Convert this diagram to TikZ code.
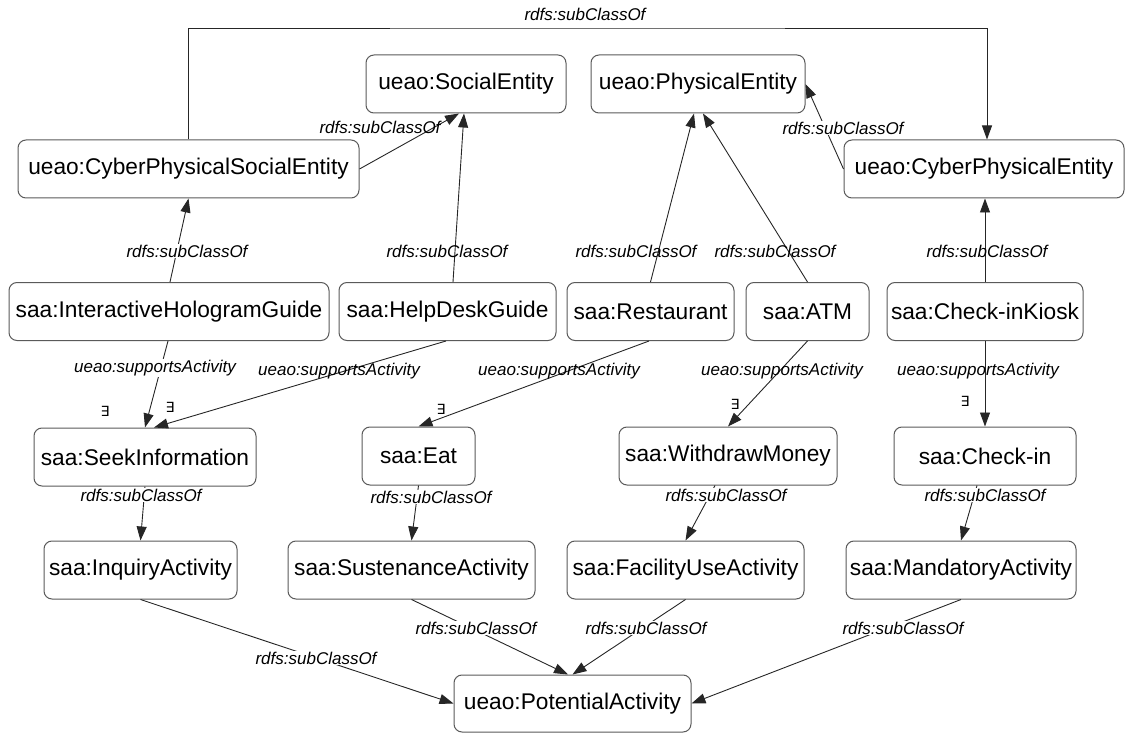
\documentclass[tikz,border=0pt]{standalone}
\usepackage{fontspec}
\setmainfont{Liberation Sans}
\newfontfamily\symfont{DejaVu Sans}
\usetikzlibrary{arrows.meta}

\definecolor{boxline}{HTML}{5A5A5A}
\definecolor{edgeline}{HTML}{262626}

\tikzset{
  cls/.style={draw=boxline, line width=1pt, rounded corners=8pt, fill=white,
    minimum height=58pt, inner sep=0pt,
    font=\fontsize{22.7}{27}\selectfont},
  rel/.style={draw=edgeline, line width=0.9pt,
    -{Triangle[length=14pt,width=10pt]}},
  lbl/.style={inner sep=1pt, font=\fontsize{17}{20}\selectfont\itshape},
  lblw/.style={lbl, fill=white},
  exists/.style={inner sep=0pt, font=\symfont\fontsize{14}{16}\selectfont},
}

\begin{document}
\begin{tikzpicture}[x=1pt, y=-1pt]
\useasboundingbox (0,0) rectangle (1128,733);

% top-level entities
\node[cls, minimum width=200pt] (SE)   at (466,84)    {ueao:SocialEntity};
\node[cls, minimum width=214pt] (PE)   at (698,84)    {ueao:PhysicalEntity};
\node[cls, minimum width=341pt] (CPSE) at (188.5,169) {ueao:CyberPhysicalSocialEntity};
\node[cls, minimum width=280pt] (CPE)  at (984,169)   {ueao:CyberPhysicalEntity};

% agents / facilities
\node[cls, minimum width=320pt] (IHG)  at (169,311.5)   {saa:InteractiveHologramGuide};
\node[cls, minimum width=217pt] (HDG)  at (447.5,311.5) {saa:HelpDeskGuide};
\node[cls, minimum width=167pt] (REST) at (650.5,311.5) {saa:Restaurant};
\node[cls, minimum width=123pt] (ATM)  at (807.5,311.5) {saa:ATM};
\node[cls, minimum width=196pt] (CIK)  at (985,311.5)   {saa:Check-inKiosk};

% activities
\node[cls, minimum width=222pt] (SI)  at (145,457)   {saa:SeekInformation};
\node[cls, minimum width=113pt] (EAT) at (418.5,456) {saa:Eat};
\node[cls, minimum width=218pt] (WM)  at (728,456)   {saa:WithdrawMoney};
\node[cls, minimum width=182pt] (CI)  at (985,456)   {saa:Check-in};

% activity categories
\node[cls, minimum width=193pt] (IA)  at (140.5,570) {saa:InquiryActivity};
\node[cls, minimum width=247pt] (SA)  at (411.5,570) {saa:SustenanceActivity};
\node[cls, minimum width=237pt] (FUA) at (685.5,570) {saa:FacilityUseActivity};
\node[cls, minimum width=230pt] (MA)  at (961,570)   {saa:MandatoryActivity};
\node[cls, minimum width=237pt, minimum height=57pt] (PA) at (572.5,703.5) {ueao:PotentialActivity};

% rail over the top
\coordinate (rail) at (587,28);
\draw[rel] (CPSE.north) |- (rail) -| ([xshift=3pt]CPE.north);

% subclass links, upper part
\draw[rel] (CPSE.east) -- ([xshift=-7pt]SE.south);
\draw[rel] ([xshift=5.5pt]HDG.north) -- ([xshift=-2pt]SE.south);
\draw[rel] (REST.north) -- ([xshift=-4pt]PE.south);
\draw[rel] (ATM.north) -- ([xshift=5pt]PE.south);
\draw[rel] (CPE.west) -- (PE.east);
\draw[rel] (CIK.north) -- ([xshift=1pt]CPE.south);
\draw[rel] ([xshift=1pt]IHG.north) -- (CPSE.south);

% supportsActivity links
\draw[rel] ([xshift=-1pt]IHG.south) -- (SI.north);
\draw[rel] ([xshift=-1.5pt]HDG.south) -- ([xshift=9pt]SI.north);
\draw[rel] ([xshift=-1.5pt]REST.south) -- (EAT.north);
\draw[rel] (ATM.south) -- (WM.north);
\draw[rel] (CIK.south) -- (CI.north);

% subclass links, lower part
\draw[rel] (SI.south) -- (IA.north);
\draw[rel] (EAT.south) -- (SA.north);
\draw[rel] ([xshift=-13pt]WM.south) -- (FUA.north);
\draw[rel] ([xshift=-8pt]CI.south) -- (MA.north);
\draw[rel] (IA.south) -- (PA.west);
\draw[rel] (SA.south) -- ([xshift=-4.5pt]PA.north);
\draw[rel] (FUA.south) -- (PA.north);
\draw[rel] (MA.south) -- (PA.east);

% edge labels
\node[lbl]  (l1)  at (585,14)  {rdfs:subClassOf};
\node[lbl]  (l2)  at (380,127) {rdfs:subClassOf};
\node[lbl]  (l3)  at (447,251) {rdfs:subClassOf};
\node[lbl]  (l4)  at (636,251) {rdfs:subClassOf};
\node[lbl]  (l5)  at (775,251) {rdfs:subClassOf};
\node[lblw] (l6)  at (843,128) {rdfs:subClassOf};
\node[lbl]  (l7)  at (987,251) {rdfs:subClassOf};
\node[lblw] (l8)  at (187,251) {rdfs:subClassOf};
\node[lblw] (l9)  at (155,368) {ueao:supportsActivity};
\node[lbl]  (l10) at (339,371) {ueao:supportsActivity};
\node[lbl]  (l11) at (559,371) {ueao:supportsActivity};
\node[lbl]  (l12) at (782,371) {ueao:supportsActivity};
\node[lbl]  (l13) at (978,371) {ueao:supportsActivity};
\node[lblw] (l14) at (141,495) {rdfs:subClassOf};
\node[lblw] (l15) at (431,497) {rdfs:subClassOf};
\node[lblw] (l16) at (726,495) {rdfs:subClassOf};
\node[lblw] (l17) at (985,495) {rdfs:subClassOf};
\node[lblw] (l18) at (316,658) {rdfs:subClassOf};
\node[lblw] (l19) at (476,628) {rdfs:subClassOf};
\node[lblw] (l20) at (646,628) {rdfs:subClassOf};
\node[lblw] (l21) at (903,628) {rdfs:subClassOf};

% existential markers
\node[exists] (e1) at (105,411) {∃};
\node[exists] (e2) at (170,407) {∃};
\node[exists] (e3) at (441,409) {∃};
\node[exists] (e4) at (735,404) {∃};
\node[exists] (e5) at (965,401) {∃};
\end{tikzpicture}
\end{document}
